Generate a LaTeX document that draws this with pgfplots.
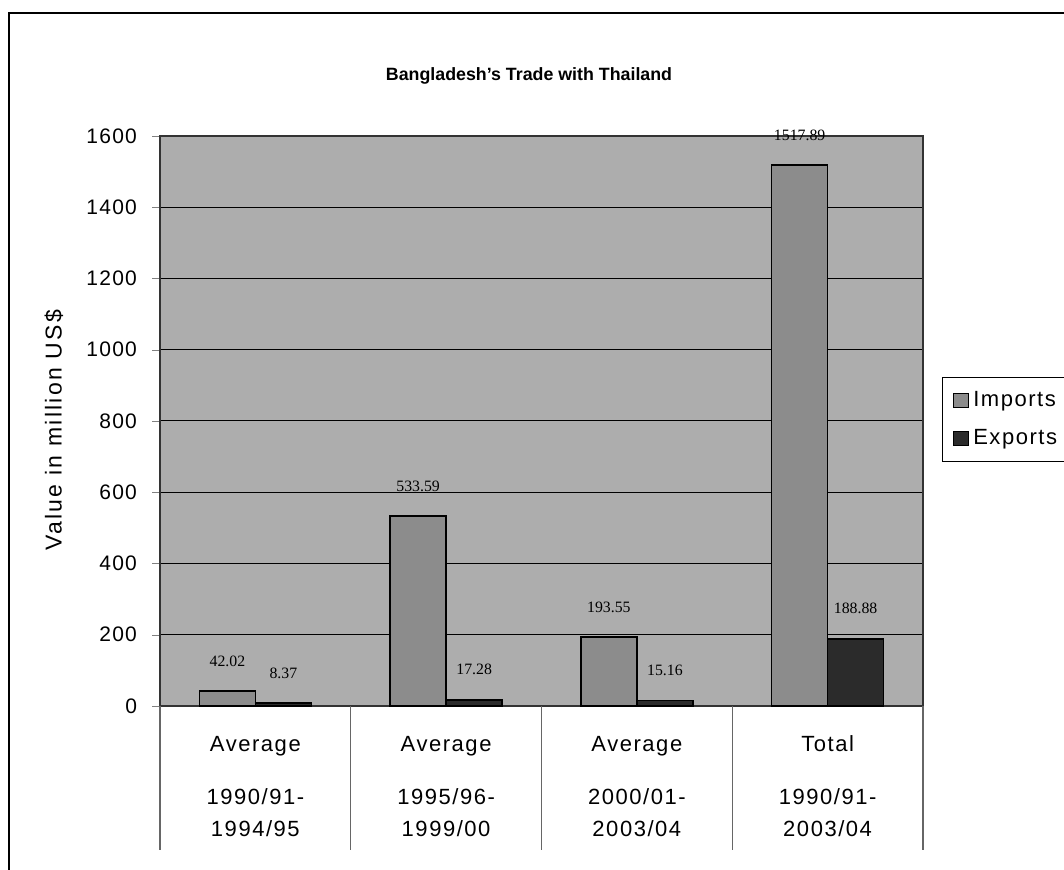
\documentclass[border=0pt]{standalone}
\usepackage{pgfplots}
\pgfplotsset{compat=1.18}
\usepackage{fontspec}
\setmainfont{Liberation Sans}
\newfontfamily\serifnum{Liberation Serif}
\newfontfamily\wideA[LetterSpace=10]{Liberation Sans}
\newfontfamily\wideB[LetterSpace=6]{Liberation Sans}
\newfontfamily\wideC[LetterSpace=7]{Liberation Sans}
\definecolor{plotbg}{gray}{0.68}
\definecolor{importc}{gray}{0.55}
\definecolor{exportc}{gray}{0.17}
\begin{document}
\begin{tikzpicture}
\useasboundingbox (0,0) rectangle (532pt,435pt);
\draw[line width=0.9pt] (4.5pt,-2pt) -- (4.5pt,428.5pt) -- (540pt,428.5pt);
\node[font=\fontsize{8.9}{10}\selectfont\bfseries] at (264.5pt,397pt) {Bangladesh's Trade with Thailand};
\begin{axis}[
  at={(80pt,82pt)}, anchor=south west,
  scale only axis, width=381.5pt, height=285pt,
  xmin=-0.5, xmax=3.5, ymin=0, ymax=1600,
  ytick={0,200,...,1600},
  xtick={0,1,2,3},
  xticklabels={{\strut Average\\[10.5pt]1990/91-\\1994/95},{\strut Average\\[10.5pt]1995/96-\\1999/00},{\strut Average\\[10.5pt]2000/01-\\2003/04},{\strut Total\\[10.5pt]1990/91-\\2003/04}},
  xticklabel style={align=center, font=\wideC\fontsize{11}{16}\selectfont, anchor=north, yshift=-4.2pt},
  major x tick style={draw=none},
  ytick pos=left, tick align=outside, major tick length=4pt,
  yticklabel style={font=\wideB\fontsize{10.5}{12}\selectfont, xshift=-4pt},
  /pgf/number format/assume math mode=true,
  /pgf/number format/1000 sep={},
  ymajorgrids, grid style={black, line width=0.5pt},
  axis line style={black!80, line width=0.7pt},
  axis background/.style={fill=plotbg},
  ylabel={Value in million US\$},
  ylabel style={font=\wideA\fontsize{11.5}{12}\selectfont, at={(axis description cs:-0.139,0.484)}, anchor=center},
  ybar=0pt, bar width=28pt,
  clip=false,
  point meta=explicit symbolic,
  nodes near coords,
  every node near coord/.append style={font=\serifnum\fontsize{7.9}{9}\selectfont, anchor=center, yshift=15pt, black},
  legend style={at={(rel axis cs:1.025,0.577)}, anchor=north west, draw=black, fill=white,
    font=\wideC\fontsize{11}{12}\selectfont, row sep=6pt, inner xsep=5.5pt, inner ysep=5pt},
  legend cell align=left,
  legend image code/.code={\draw[#1, line width=0.4pt] (0pt,-3.5pt) rectangle (7.5pt,3.5pt);},
]
\addplot[fill=importc, draw=black, line width=0.8pt] table[meta=label] {
x y label
0 42.02 42.02
1 533.59 533.59
2 193.55 193.55
3 1517.89 1517.89
};
\addlegendentry{Imports}
\addplot[fill=exportc, draw=black, line width=0.8pt] table[meta=label] {
x y label
0 8.37 8.37
1 17.28 17.28
2 15.16 15.16
3 188.88 188.88
};
\addlegendentry{Exports}
\foreach \s in {-0.5,0.5,1.5,2.5,3.5} {
  \edef\tmp{\noexpand\draw[black!60, line width=0.6pt] (axis cs:\s,0) -- ([yshift=-72pt]axis cs:\s,0);}
  \tmp
}
\end{axis}
\end{tikzpicture}
\end{document}
